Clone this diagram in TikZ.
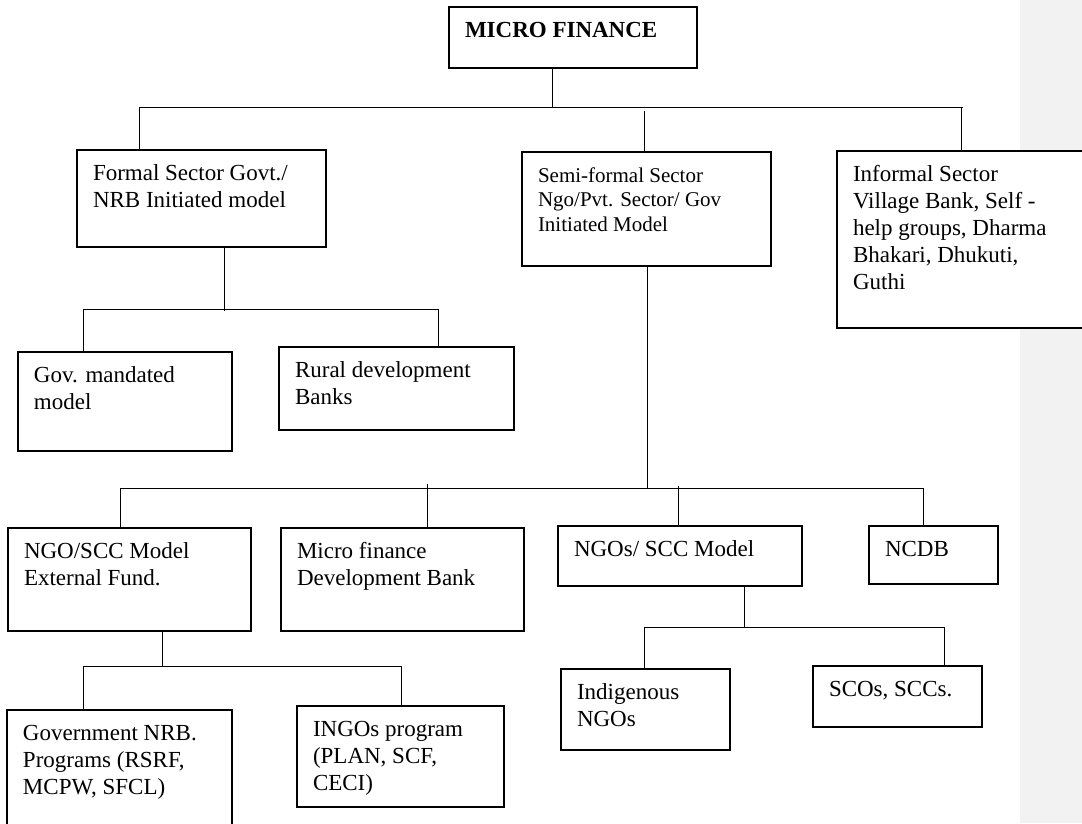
\documentclass[tikz,border=0pt]{standalone}
\usepackage{fontspec}
\setmainfont{Liberation Serif}
\newcommand{\cell}[3]{\parbox[t][#2pt][t]{#1pt}{\rule{0pt}{30pt}#3}}
\definecolor{margingray}{RGB}{242,242,242}
\begin{document}
\begin{tikzpicture}[x=1pt, y=-1pt,
    box/.style={draw, line width=1.2pt, fill=white, anchor=north west,
      inner xsep=16pt, inner ysep=0pt, outer sep=0pt,
      font=\fontsize{23}{27}\selectfont},
    smallbox/.style={box, font=\fontsize{21}{24.5}\selectfont},
    link/.style={line width=0.9pt}]
  \useasboundingbox (0,0) rectangle (1082,823);
  \fill[margingray] (1020,0) rectangle (1082,823);

  \node[box] (finance) at (449,7) {\cell{216}{61}{\textbf{MICRO FINANCE}}};

  \node[box] (formal) at (77,150) {\cell{217}{97}{Formal Sector Govt./\\NRB Initiated model}};
  \node[smallbox] (semi) at (522,152) {\cell{217}{114}{Semi-formal Sector\\Ngo/Pvt. Sector/ Gov\\Initiated Model}};
  \node[box] (informal) at (837,151) {\cell{231}{177}{Informal Sector\\Village Bank, Self -\\help groups, Dharma\\Bhakari, Dhukuti,\\Guthi}};

  \node[box] (gov) at (18,352) {\cell{182}{99}{Gov. mandated\\model}};
  \node[box] (rural) at (279,347) {\cell{203}{83}{Rural development\\Banks}};

  \node[box] (ngoscc) at (8,528) {\cell{211}{103}{NGO/SCC Model\\External Fund.}};
  \node[box] (mfdb) at (281,528) {\cell{211}{103}{Micro finance\\Development Bank}};
  \node[box] (ngos) at (558,526) {\cell{212}{60}{NGOs/ SCC Model}};
  \node[box] (ncdb) at (869,526) {\cell{97}{58}{NCDB}};

  \node[box] (gnrb) at (7,710) {\cell{193}{130}{Government NRB.\\Programs (RSRF,\\MCPW, SFCL)}};
  \node[box] (ingos) at (297,706) {\cell{175}{101}{INGOs program\\(PLAN, SCF,\\CECI)}};
  \node[box] (indig) at (561,669) {\cell{137}{81}{Indigenous\\NGOs}};
  \node[box] (scos) at (813,666) {\cell{137}{61}{SCOs, SCCs.}};

  \coordinate (busA) at (552,107);
  \coordinate (busA-w) at (139,107);
  \coordinate (busA-e) at (963,107);
  \coordinate (busA-m) at (644,111);
  \coordinate (busA-r) at (961,107);
  \draw[link] (finance.south -| busA) -- (busA);
  \draw[link] (busA-w) -- (busA-e);
  \foreach \c/\n in {busA-w/formal, busA-m/semi, busA-r/informal}
    \draw[link] (\c) -- (\c |- \n.north);

  \coordinate (busB) at (224,311);
  \coordinate (busB-w) at (83,309);
  \coordinate (busB-e) at (438,309);
  \draw[link] (formal.south -| busB) -- (busB);
  \draw[link] (busB-w) -- (busB-e);
  \foreach \c/\n in {busB-w/gov, busB-e/rural}
    \draw[link] (\c) -- (\c |- \n.north);

  \coordinate (busC) at (647,488);
  \coordinate (busC-w) at (120,488);
  \coordinate (busC-e) at (923,488);
  \coordinate (busC-b) at (427,484);
  \coordinate (busC-c) at (678,486);
  \draw[link] (semi.south -| busC) -- (busC);
  \draw[link] (busC-w) -- (busC-e);
  \foreach \c/\n in {busC-w/ngoscc, busC-b/mfdb, busC-c/ngos, busC-e/ncdb}
    \draw[link] (\c) -- (\c |- \n.north);

  \coordinate (busD) at (162,666);
  \coordinate (busD-w) at (83,666);
  \coordinate (busD-e) at (401,666);
  \draw[link] (ngoscc.south -| busD) -- (busD);
  \draw[link] (busD-w) -- (busD-e);
  \foreach \c/\n in {busD-w/gnrb, busD-e/ingos}
    \draw[link] (\c) -- (\c |- \n.north);

  \coordinate (busE) at (744,627);
  \coordinate (busE-w) at (644,627);
  \coordinate (busE-e) at (944,627);
  \draw[link] (ngos.south -| busE) -- (busE);
  \draw[link] (busE-w) -- (busE-e);
  \foreach \c/\n in {busE-w/indig, busE-e/scos}
    \draw[link] (\c) -- (\c |- \n.north);
\end{tikzpicture}
\end{document}
